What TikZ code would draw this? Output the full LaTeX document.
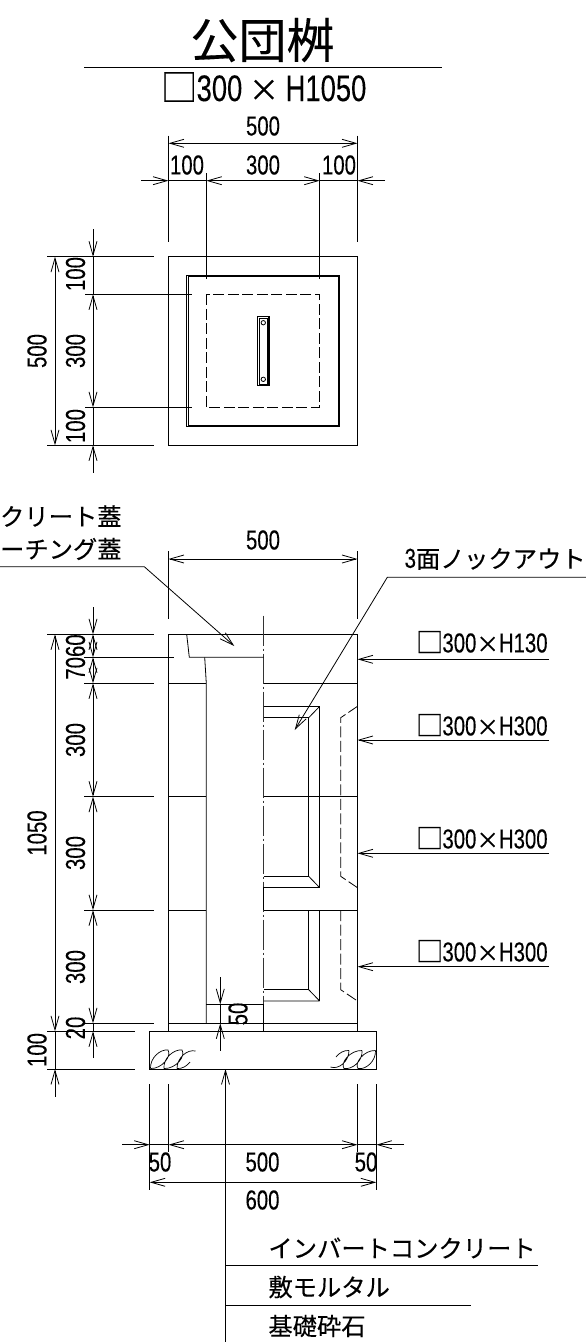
\documentclass[tikz,border=0pt]{standalone}
\usepackage{fontspec}
\usetikzlibrary{arrows.meta}
\setmainfont{Liberation Sans}
\newfontfamily\jpf[FakeBold=0.25]{Noto Sans CJK JP}
\newfontfamily\numf[FakeStretch=0.74,FakeBold=0.15]{Liberation Sans}
\newcommand{\sizelab}[2][0pt]{{\jpf □}\kern-1pt{\numf 300}\kern#1{\jpf\scalebox{0.82}{×}}\kern#1{\numf #2}}
\tikzset{
  ln/.style={line width=0.8pt,black},
  hid/.style={line width=0.8pt,dash pattern=on 11pt off 3.5pt},
  ctr/.style={line width=0.8pt,black!80,dash pattern=on 30pt off 3pt on 2pt off 3pt},
  tip/.style={>={Straight Barb[length=14pt,width=8pt]}},
  num/.style={inner sep=0pt,font=\fontsize{27.5}{27.5}\selectfont\numf},
  vnum/.style={num,rotate=90},
  jp/.style={inner sep=0pt,font=\fontsize{24.3}{24.3}\selectfont\jpf},
  szl/.style={inner sep=0pt,font=\fontsize{27.5}{27.5}\selectfont},
}
\begin{document}
\begin{tikzpicture}[x=1pt,y=-1pt,ln,tip]
\useasboundingbox (0,0) rectangle (586,1342);
% title
\node[inner sep=0pt,font=\fontsize{48}{48}\selectfont\jpf] (title) at (262.5,40) {公団桝};
\draw (84,67.3) -- (442,67.3);
\node[inner sep=0pt,font=\fontsize{37}{37}\selectfont] (sub) at (263.5,87) {\sizelab[6.5pt]{H1050}};
% plan top dimensions
\draw (168.5,135.5) -- (168.5,242) (357.5,135.5) -- (357.5,242);
\draw[<->] (168.5,143.3) -- (357.5,143.3);
\node[num] (p500) at (263,126) {500};
\draw (206.3,173) -- (206.3,279) (319.7,173) -- (319.7,279);
\draw[->] (141,180.7) -- (168.5,180.7);
\draw (168.5,180.7) -- (206.3,180.7);
\draw[<->] (206.3,180.7) -- (319.7,180.7);
\draw (319.7,180.7) -- (357.5,180.7);
\draw[->] (385,180.7) -- (357.5,180.7);
\node[num] (p100a) at (187,165) {100};
\node[num] (p300) at (263,165) {300};
\node[num] (p100b) at (339,165) {100};
% plan
\draw (168.5,256.7) rectangle (357.5,445.3);
\draw (186.7,275) rectangle (339.7,426.7);
\draw (188,276.2) rectangle (338.4,425.5);
\draw[hid] (206.3,294.3) rectangle (319.7,407.3);
\draw[line width=1.1pt] (257.7,316.7) rectangle (269,385.3);
\draw (259,318) rectangle (267.7,384);
\draw (263.3,322.7) circle (2.2) (263.3,379.3) circle (2.2);
% plan left dimensions
\draw (47,256.7) -- (154,256.7) (47,445.3) -- (154,445.3);
\draw (85,294.3) -- (191.7,294.3) (85,407.3) -- (191.7,407.3);
\draw[->] (93,229) -- (93,256.7);
\draw (93,256.7) -- (93,294.3);
\draw[<->] (93,294.3) -- (93,407.3);
\draw (93,407.3) -- (93,445.3);
\draw[->] (93,472.5) -- (93,445.3);
\draw[<->] (55,256.7) -- (55,445.3);
\node[vnum] (q100a) at (75.5,274) {100};
\node[vnum] (q300) at (75.5,351) {300};
\node[vnum] (q100b) at (75.5,426) {100};
\node[vnum] (q500) at (37,351) {500};
% front labels
\node[jp,anchor=east] (c1) at (122,516) {クリート蓋};
\node[jp,anchor=east] (c2) at (122,549) {ーチング蓋};
\draw[->] (0,566.7) -- (144.3,566.7) -- (234.3,646);
\node[num] (f500) at (263,540) {500};
\draw (168.5,551) -- (168.5,619) (357.5,551) -- (357.5,619);
\draw[<->] (168.5,559) -- (357.5,559);
\node[inner sep=0pt,anchor=east] (ko) at (586,559) {\fontsize{27.5}{27.5}\selectfont\numf 3\fontsize{24.3}{24.3}\selectfont\jpf 面ノックアウト};
\draw[->] (586,577.3) -- (387.3,577.3) -- (294.7,730);
% front body
\draw (168.5,634.3) -- (357.5,634.3);
\draw (168.5,634.3) -- (168.5,1031.3) (357.5,634.3) -- (357.5,1031.3);
\draw[ctr] (263.5,615.7) -- (263.5,1004.3);
\draw (263.5,1004.3) -- (263.5,1031.3);
\draw (186.7,634.3) -- (189.3,657.3) -- (263.5,657.3);
\draw (204.7,657.3) -- (206.3,683.3) -- (206.3,1023.3);
\draw (168.5,683.3) -- (206.3,683.3) (263.5,683.3) -- (357.5,683.3);
\draw (168.5,796.7) -- (206.3,796.7) (263.5,796.7) -- (357.5,796.7);
\draw (168.5,910.2) -- (206.3,910.2) (263.5,910.2) -- (357.5,910.2);
\draw (206.3,1004.3) -- (263.5,1004.3);
\draw (168.5,1023.3) -- (357.5,1023.3);
% knockouts
\draw (263.5,706.3) -- (319.7,706.3) -- (319.7,887.7) -- (263.5,887.7) -- (263.5,910.2);
\draw[line width=1pt] (263.5,717.7) -- (308.7,717.7) -- (308.7,876.3) -- (263.5,876.3);
\draw (308.7,717.7) -- (319.7,706.3) (308.7,876.3) -- (319.7,887.7);
\draw (308.7,910.2) -- (308.7,989.7) (319.7,910.2) -- (319.7,1001);
\draw[line width=1pt] (263.5,989.7) -- (308.7,989.7);
\draw (263.5,1001) -- (319.7,1001) (308.7,989.7) -- (319.7,1001);
\draw[hid] (357.5,706.3) -- (340.7,717.7) -- (340.7,876.3) -- (357.5,887.7);
\draw[hid] (340.7,910.2) -- (340.7,989.7) -- (357.5,1001);
% right leaders
\draw[->] (549,659.3) -- (357.5,659.3);
\draw[->] (549,740) -- (357.5,740);
\draw[->] (549,853.3) -- (357.5,853.3);
\draw[->] (549,966.7) -- (357.5,966.7);
\node[szl,anchor=east] (s1) at (548,642) {\sizelab{H130}};
\node[szl,anchor=east] (s2) at (548,725) {\sizelab{H300}};
\node[szl,anchor=east] (s3) at (548,838) {\sizelab{H300}};
\node[szl,anchor=east] (s4) at (548,951) {\sizelab{H300}};
% base
\draw (149.7,1031.3) rectangle (376.3,1069);
\draw[line width=0.7pt] (150.5,1068.5) .. controls (150,1058) and (160,1049) .. (168,1050) .. controls (172,1056) and (162,1069) .. (150.5,1068.5)
 (164,1068.5) .. controls (163,1058) and (174,1049) .. (182,1050) .. controls (186,1056) and (176,1069) .. (164,1068.5)
 (177,1068.5) .. controls (177,1058) and (187,1049) .. (195.5,1051) (177,1068.5) .. controls (182,1069) and (187,1066) .. (190,1062);
\draw[line width=0.7pt] (375.5,1050.5) .. controls (376,1061) and (366,1070) .. (358,1068.5) .. controls (354,1063) and (364,1050) .. (375.5,1050.5)
 (362,1050.5) .. controls (363,1061) and (352,1070) .. (344,1068.5) .. controls (340,1063) and (350,1050) .. (362,1050.5)
 (349,1050.5) .. controls (349,1061) and (339,1070) .. (330.5,1067) (349,1050.5) .. controls (344,1050) and (339,1053) .. (336,1057);
% front left dimensions
\draw (47,634.3) -- (154,634.3);
\draw (84,657.3) -- (174.3,657.3);
\draw (84,683.3) -- (154,683.3);
\draw (84,796.7) -- (154,796.7);
\draw (84,910.2) -- (154,910.2);
\draw (84,1023.3) -- (154,1023.3);
\draw (47,1031.3) -- (135,1031.3) (47,1069) -- (135,1069);
\draw[->] (93,607) -- (93,634.3);
\draw[<->] (93,634.3) -- (93,657.3);
\draw[<->] (93,657.3) -- (93,683.3);
\draw[<->] (93,683.3) -- (93,796.7);
\draw[<->] (93,796.7) -- (93,910.2);
\draw[<->] (93,910.2) -- (93,1023.3);
\draw (93,1023.3) -- (93,1031.3);
\draw[->] (93,1058) -- (93,1031.3);
\draw[<->] (55,634.3) -- (55,1031.3);
\draw (55,1031.3) -- (55,1069);
\draw[->] (55,1096.7) -- (55,1069);
\node[vnum] (r7060) at (75.5,657) {7060};
\node[vnum] (r300a) at (75.5,740) {300};
\node[vnum] (r300b) at (75.5,853) {300};
\node[vnum] (r300c) at (75.5,967) {300};
\node[vnum] (r20) at (75.5,1028) {20};
\node[vnum] (r1050) at (37,833) {1050};
\node[vnum] (r100) at (37,1050) {100};
% inner 50
\draw[->] (220.3,977) -- (220.3,1004.3);
\draw (220.3,1004.3) -- (220.3,1023.3);
\draw[->] (220.3,1050.7) -- (220.3,1023.3);
\node[vnum] (r50) at (238,1014) {50};
% bottom dimensions
\draw (149.7,1084) -- (149.7,1190) (376.3,1084) -- (376.3,1190);
\draw (168.5,1084) -- (168.5,1152) (357.5,1084) -- (357.5,1152);
\draw[->] (122,1144.7) -- (149.7,1144.7);
\draw (149.7,1144.7) -- (168.5,1144.7);
\draw[<->] (168.5,1144.7) -- (357.5,1144.7);
\draw (357.5,1144.7) -- (376.3,1144.7);
\draw[->] (404,1144.7) -- (376.3,1144.7);
\draw[<->] (149.7,1182.3) -- (376.3,1182.3);
\node[num] (b50a) at (160,1162) {50};
\node[num] (b500) at (262.5,1162) {500};
\node[num] (b50b) at (366,1162) {50};
\node[num] (b600) at (262.5,1200) {600};
\draw[->] (225.5,1342) -- (225.5,1069);
\draw (225.5,1265.7) -- (538,1265.7);
\draw (225.5,1305) -- (471,1305);
\node[jp,anchor=west] (t1) at (268,1248) {インバートコンクリート};
\node[jp,anchor=west] (t2) at (268,1287) {敷モルタル};
\node[jp,anchor=west] (t3) at (268,1326) {基礎砕石};
\end{tikzpicture}
\end{document}
